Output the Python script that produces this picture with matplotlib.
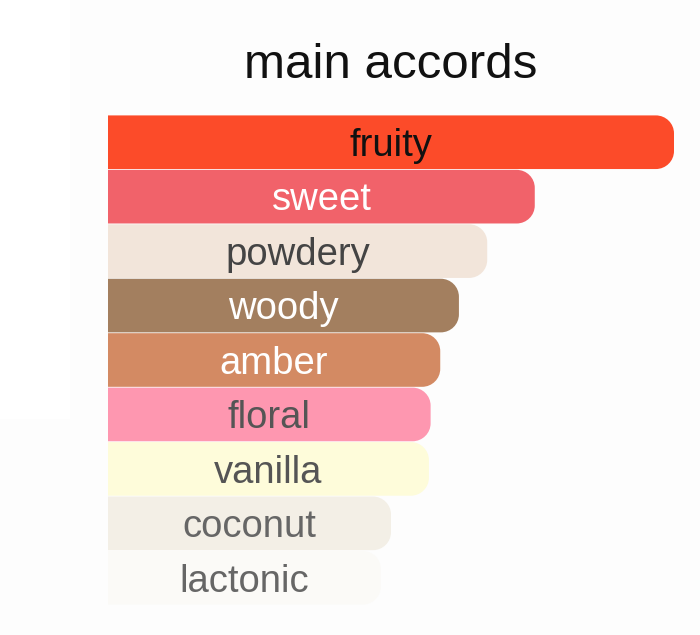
import matplotlib.pyplot as plt
from matplotlib.path import Path
from matplotlib.patches import PathPatch, Rectangle

plt.switch_backend('Agg')

accords = ['fruity', 'sweet', 'powdery', 'woody', 'amber',
           'floral', 'vanilla', 'coconut', 'lactonic']
strength = [100, 75.4, 67.0, 62.0, 58.7, 57.0, 56.7, 50.0, 48.2]
bar_colors = ['#FC4B29', '#F1626A', '#F2E5DA', '#A37F5F', '#D38A63',
              '#FE97B0', '#FEFCDA', '#F3EFE6', '#FBFAF7']
text_colors = ['#111111', '#FFFFFF', '#444444', '#FFFFFF', '#FFFFFF',
               '#555555', '#555555', '#666666', '#666666']


def rounded_bar(x1, yc, h, rx, ry):
    """Barra con esquinas redondeadas solo a la derecha"""
    k = 0.5523
    y0, y1 = yc - h / 2, yc + h / 2
    verts = [
        (0, y0), (x1 - rx, y0),
        (x1 - rx + k * rx, y0), (x1, y0 + ry - k * ry), (x1, y0 + ry),
        (x1, y1 - ry),
        (x1, y1 - ry + k * ry), (x1 - rx + k * rx, y1), (x1 - rx, y1),
        (0, y1), (0, y0),
    ]
    codes = [Path.MOVETO, Path.LINETO,
             Path.CURVE4, Path.CURVE4, Path.CURVE4,
             Path.LINETO,
             Path.CURVE4, Path.CURVE4, Path.CURVE4,
             Path.LINETO, Path.CLOSEPOLY]
    return Path(verts, codes)


fig = plt.figure(figsize=(7, 6.35), dpi=100)
fig.patch.set_facecolor('#FDFDFD')
# franja blanca a la izquierda
fig.patches.append(Rectangle((0, 0.34), 0.1, 0.66, transform=fig.transFigure,
                             facecolor='#FFFFFF', edgecolor='none', zorder=0))

ax = fig.add_axes([108 / 700, 30 / 635, 566 / 700, 490 / 635])
ax.set_facecolor('none')
ax.set_xlim(0, 100)
ax.set_ylim(len(accords) - 0.5, -0.5)
ax.axis('off')

for i, (name, val) in enumerate(zip(accords, strength)):
    p = rounded_bar(val, i, 0.985, 3.2, 0.33)
    ax.add_patch(PathPatch(p, facecolor=bar_colors[i], edgecolor='none'))
    ax.text(val / 2, i + 0.07, name, ha='center', va='center',
            fontsize=27.5, color=text_colors[i], family='Liberation Sans')

fig.text(391 / 700, 1 - 66 / 635, 'main accords', ha='center', va='center',
         fontsize=35.5, color='#111111', family='Liberation Sans')

plt.savefig('out.png', dpi=100, facecolor=fig.get_facecolor())
plt.close()
